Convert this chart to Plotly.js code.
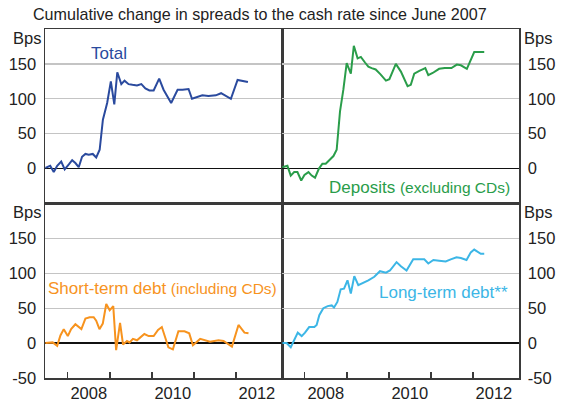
<!DOCTYPE html>
<html>
<head>
<meta charset="utf-8">
<script src="https://cdn.plot.ly/plotly-3.0.1.min.js"></script>
<style>
	html, body { margin: 0; padding: 0; background: #fff; }
	#chart { width: 566px; height: 402px; }
</style>
</head>
<body>
<div id="chart"></div>
<script>
// Cumulative change in spreads to the cash rate since June 2007 (Bps)
const totalDates = [
	'2007-06-20', '2007-08-01', '2007-09-01', '2007-10-01', '2007-11-05', '2007-12-05',
	'2008-01-10', '2008-02-08', '2008-03-07', '2008-04-05', '2008-05-04', '2008-06-02',
	'2008-07-01', '2008-08-05', '2008-09-04', '2008-10-04', '2008-11-01', '2008-12-08',
	'2009-01-09', '2009-02-08', '2009-03-06', '2009-04-10', '2009-05-08', '2009-06-12',
	'2009-07-16', '2009-08-24', '2009-10-01', '2009-11-05', '2009-12-10', '2010-01-16',
	'2010-03-05', '2010-04-12', '2010-06-17', '2010-08-12', '2010-09-24', '2010-11-15',
	'2010-12-15', '2011-01-28', '2011-03-15', '2011-05-07', '2011-07-10', '2011-08-25',
	'2011-09-30', '2011-11-18', '2012-01-15', '2012-02-28', '2012-04-14'
];
const totalBps = [
	1, 4, -5, 4, 10, -1,
	6, 12, 8, 2, 17, 21,
	20, 21, 16, 27, 70, 94,
	125, 92, 138, 121, 126, 121,
	120, 119, 121, 115, 112, 112,
	129, 113, 94, 113, 113, 114,
	100, 102, 105, 104, 105, 108,
	105, 100, 127, 126, 124
];

const depositDates = [
	'2007-06-20', '2007-08-03', '2007-09-01', '2007-10-01', '2007-10-29', '2007-12-01',
	'2007-12-29', '2008-02-02', '2008-03-01', '2008-03-30', '2008-05-03', '2008-06-02',
	'2008-07-01', '2008-08-02', '2008-09-06', '2008-10-04', '2008-11-02', '2008-12-01',
	'2008-12-30', '2009-02-04', '2009-03-02', '2009-04-04', '2009-05-02', '2009-06-07',
	'2009-07-06', '2009-08-04', '2009-09-08', '2009-10-20', '2009-12-06', '2010-01-05',
	'2010-03-02', '2010-04-15', '2010-06-12', '2010-07-10', '2010-08-09', '2010-09-22',
	'2010-11-13', '2010-12-09', '2011-01-16', '2011-03-13', '2011-05-01', '2011-06-28',
	'2011-08-14', '2011-09-18', '2011-11-09', '2012-01-12', '2012-04-08'
];
const depositBps = [
	2, 4, -10, -5, -5, -17,
	-9, -5, -10, -13, 0, 7,
	7, 13, 18, 27, 82, 113,
	151, 136, 176, 158, 160, 152,
	146, 144, 142, 135, 126, 128,
	150, 139, 118, 120, 136, 140,
	144, 134, 137, 143, 144, 144,
	149, 148, 143, 167, 167
];

const shortDates = [
	'2007-06-20', '2007-08-23', '2007-10-01', '2007-10-29', '2007-11-27', '2008-01-01',
	'2008-01-30', '2008-03-07', '2008-04-28', '2008-06-02', '2008-07-09', '2008-08-13',
	'2008-09-04', '2008-10-02', '2008-10-31', '2008-11-30', '2008-12-30', '2009-01-30',
	'2009-02-24', '2009-03-30', '2009-04-25', '2009-05-29', '2009-06-21', '2009-07-20',
	'2009-08-24', '2009-10-27', '2009-12-04', '2010-01-16', '2010-02-23', '2010-03-28',
	'2010-05-24', '2010-07-02', '2010-08-19', '2010-10-11', '2010-11-21', '2010-12-23',
	'2011-02-24', '2011-05-21', '2011-08-02', '2011-09-15', '2011-11-27', '2012-01-23',
	'2012-03-15', '2012-04-19'
];
const shortBps = [
	0, 1, -4, 11, 20, 10,
	20, 27, 20, 35, 37, 37,
	32, 20, 28, 56, 47, 53,
	-10, 29, -2, 3, 1, 6,
	4, 13, 10, 10, 19, 23,
	-6, -9, 17, 17, 14, -3,
	6, 2, 4, 3, -5, 26,
	15, 14
];

const longDates = [
	'2007-06-20', '2007-07-27', '2007-09-01', '2007-10-03', '2007-11-01', '2007-12-05',
	'2008-01-03', '2008-02-08', '2008-03-24', '2008-04-13', '2008-05-06', '2008-06-10',
	'2008-07-18', '2008-08-22', '2008-09-11', '2008-10-10', '2008-11-08', '2008-12-07',
	'2009-01-06', '2009-02-04', '2009-03-06', '2009-04-10', '2009-05-23', '2009-07-06',
	'2009-08-27', '2009-10-15', '2009-12-06', '2010-01-10', '2010-03-08', '2010-04-15',
	'2010-06-03', '2010-07-31', '2010-09-22', '2010-11-04', '2010-12-09', '2011-01-22',
	'2011-03-13', '2011-05-09', '2011-06-22', '2011-08-11', '2011-09-18', '2011-11-06',
	'2011-12-13', '2012-01-12', '2012-03-09', '2012-04-08'
];
const longBps = [
	0, 0, -6, 4, 15, 10,
	15, 23, 23, 26, 40, 50,
	53, 54, 51, 59, 77, 78,
	90, 71, 96, 83, 86, 90,
	95, 103, 101, 104, 116, 110,
	104, 120, 120, 120, 114, 119,
	118, 117, 120, 123, 122, 119,
	130, 134, 128, 128
];

const yearTicks = [ '2008-01-01', '2009-01-01', '2010-01-01', '2011-01-01', '2012-01-01' ];
const yearLabelVals = [ '2008-07-01', '2010-07-01', '2012-07-01' ];
const yearLabels = [ '2008', '2010', '2012' ];
const topTickVals = [ 0, 50, 100, 150 ];
const bottomTickVals = [ -50, 0, 50, 100, 150 ];

/**
 * Colours
 */
const frameColor = '#3a3a3a';
const gridColor = '#c4c4c4';
const textColor = '#222222';
const seriesColors = {
	total: '#2a4a9e',
	deposits: '#2a9d4a',
	shortTerm: '#f7931e',
	longTerm: '#3cb6e6',
};

/**
 * Pixel helpers for labels (plot area is 45..519 x 29..378)
 */
const px = x => (x - 45) / 474;
const py = y => (378 - y) / 349;

const xRange = [ '2007-06-17', '2013-02-04' ];

function xAxis( domain, anchor, showLabels ){
	const axis = {
		type: 'date',
		domain: domain,
		anchor: anchor,
		range: xRange,
		showgrid: false,
		zeroline: false,
		showline: true,
		mirror: true,
		linecolor: frameColor,
		linewidth: 1.5,
		fixedrange: true,
		ticks: '',
		showticklabels: false,
	};
	if( showLabels ){
		axis.showticklabels = true;
		axis.tickmode = 'array';
		axis.tickvals = yearLabelVals;
		axis.ticktext = yearLabels;
		axis.tickfont = { size: 16.5, color: textColor };
		axis.ticklabelstandoff = 0;
		axis.minor = {
			tickmode: 'array',
			tickvals: yearTicks,
			ticks: 'inside',
			ticklen: 6,
			tickwidth: 1.3,
			tickcolor: frameColor,
			showgrid: false,
		};
	}
	return axis;
}

function yAxis( domain, anchor, side, tickVals ){
	return {
		domain: domain,
		anchor: anchor,
		side: side,
		range: [ -50, 200 ],
		tickmode: 'array',
		tickvals: tickVals,
		ticktext: tickVals.map(v => String(v)),
		tickfont: { size: 16.5, color: textColor },
		ticks: '',
		ticklabelstandoff: 4,
		showgrid: true,
		gridcolor: gridColor,
		gridwidth: 1.2,
		zeroline: true,
		zerolinecolor: '#111111',
		zerolinewidth: 1.4,
		showline: true,
		mirror: true,
		linecolor: frameColor,
		linewidth: 1.5,
		fixedrange: true,
	};
}

const trace = ( x, y, color, xa, ya ) => ({
	x: x,
	y: y,
	xaxis: xa,
	yaxis: ya,
	type: 'scatter',
	mode: 'lines',
	line: { color: color, width: 2 },
	hoverinfo: 'skip',
});

const data = [
	trace(totalDates, totalBps, seriesColors.total, 'x', 'y'),
	trace(depositDates, depositBps, seriesColors.deposits, 'x2', 'y2'),
	trace(shortDates, shortBps, seriesColors.shortTerm, 'x3', 'y3'),
	trace(longDates, longBps, seriesColors.longTerm, 'x4', 'y4'),
];

const label = ( text, x, y, color, anchor, size ) => ({
	text: text,
	xref: 'paper',
	yref: 'paper',
	x: px(x),
	y: py(y),
	xanchor: anchor,
	yanchor: 'middle',
	showarrow: false,
	font: { size: size || 17, color: color },
});

const small = s => `<span style="font-size:15.5px">${s}</span>`;

const layout = {
	width: 566,
	height: 402,
	margin: { l: 45, r: 47, t: 29, b: 24 },
	paper_bgcolor: '#ffffff',
	plot_bgcolor: '#ffffff',
	font: { family: '"Liberation Sans", Arial, sans-serif', color: textColor },
	showlegend: false,
	xaxis: xAxis([ 0, 0.5 ], 'y', false),
	yaxis: yAxis([ 0.5, 1 ], 'x', 'left', topTickVals),
	xaxis2: xAxis([ 0.5, 1 ], 'y2', false),
	yaxis2: yAxis([ 0.5, 1 ], 'x2', 'right', topTickVals),
	xaxis3: xAxis([ 0, 0.5 ], 'y3', true),
	yaxis3: yAxis([ 0, 0.5 ], 'x3', 'left', bottomTickVals),
	xaxis4: xAxis([ 0.5, 1 ], 'y4', true),
	yaxis4: yAxis([ 0, 0.5 ], 'x4', 'right', bottomTickVals),
	annotations: [
		label('Cumulative change in spreads to the cash rate since June 2007', 259.5, 14, textColor, 'center', 16.1),
		label('Bps', 27, 38, textColor, 'center', 16.5),
		label('Bps', 538, 38, textColor, 'center', 16.5),
		label('Bps', 27, 212, textColor, 'center', 16.5),
		label('Bps', 538, 212, textColor, 'center', 16.5),
		label('Total', 89, 54, seriesColors.total, 'left'),
		label('Deposits ' + small('(excluding CDs)'), 512, 187, seriesColors.deposits, 'right'),
		label('Short-term debt ' + small('(including CDs)'), 46, 288, seriesColors.shortTerm, 'left'),
		label('Long-term debt**', 510, 292, seriesColors.longTerm, 'right'),
	],
};

Plotly.newPlot('chart', data, layout, { displayModeBar: false, staticPlot: true });
</script>
</body>
</html>
